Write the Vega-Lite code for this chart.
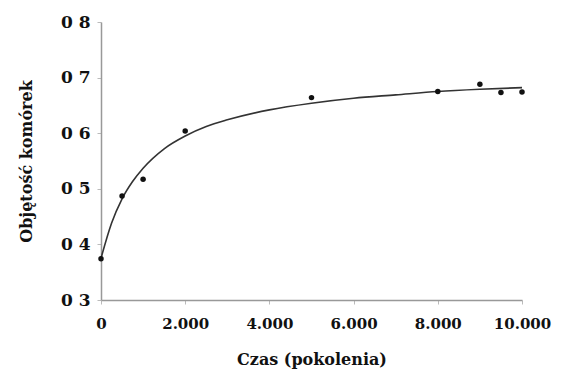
{
  "$schema": "https://vega.github.io/schema/vega-lite/v6.json",
  "width": 421,
  "height": 278,
  "autosize": "none",
  "padding": {"left": 101, "top": 22, "right": 40, "bottom": 74},
  "background": "white",
  "config": {"view": {"stroke": null}},
  "datasets": {
    "points": [
      {"t": 0, "v": 0.374},
      {"t": 500, "v": 0.487},
      {"t": 1000, "v": 0.517},
      {"t": 2000, "v": 0.604},
      {"t": 5000, "v": 0.664},
      {"t": 8000, "v": 0.675},
      {"t": 9000, "v": 0.688},
      {"t": 9500, "v": 0.673},
      {"t": 10000, "v": 0.674}
    ],
    "curve": [
      {"t": 0, "v": 0.375},
      {"t": 250, "v": 0.438},
      {"t": 500, "v": 0.482},
      {"t": 750, "v": 0.513},
      {"t": 1000, "v": 0.537},
      {"t": 1500, "v": 0.572},
      {"t": 2000, "v": 0.595},
      {"t": 2500, "v": 0.612},
      {"t": 3000, "v": 0.624},
      {"t": 4000, "v": 0.642},
      {"t": 5000, "v": 0.654},
      {"t": 6000, "v": 0.663},
      {"t": 7000, "v": 0.669},
      {"t": 8000, "v": 0.675},
      {"t": 9000, "v": 0.679},
      {"t": 10000, "v": 0.682}
    ]
  },
  "layer": [
    {
      "data": {"name": "curve"},
      "mark": {"type": "line", "color": "#333333", "strokeWidth": 1.6, "interpolate": "monotone"},
      "encoding": {
        "x": {
          "field": "t", "type": "quantitative",
          "scale": {"domain": [0, 10000], "nice": false},
          "axis": {
            "values": [0, 2000, 4000, 6000, 8000, 10000],
            "labelExpr": "replace(format(datum.value, ','), ',', '.')",
            "labelOverlap": false,
            "labelFlush": false,
            "labelFont": "DejaVu Serif", "labelFontWeight": "bold", "labelFontSize": 15, "labelColor": "#111111",
            "labelPadding": 12,
            "domainColor": "#999999", "domainWidth": 1.5,
            "tickColor": "#bbbbbb", "tickSize": 4,
            "grid": false,
            "title": "Czas (pokolenia)",
            "titleFont": "DejaVu Serif", "titleFontWeight": "bold", "titleFontSize": 16, "titleColor": "#111111",
            "titlePadding": 20
          }
        },
        "y": {
          "field": "v", "type": "quantitative",
          "scale": {"domain": [0.3, 0.8], "nice": false, "zero": false},
          "axis": {
            "values": [0.3, 0.4, 0.5, 0.6, 0.7, 0.8],
            "format": ".1f",
            "labelExpr": "replace(datum.label, '.', ' ')",
            "labelOverlap": false,
            "labelFlush": false,
            "labelFont": "DejaVu Serif", "labelFontWeight": "bold", "labelFontSize": 17, "labelColor": "#111111",
            "labelPadding": 7,
            "domainColor": "#999999", "domainWidth": 1.5,
            "tickColor": "#bbbbbb", "tickSize": 4,
            "grid": false,
            "title": "Objętość komórek",
            "titleFont": "DejaVu Serif", "titleFontWeight": "bold", "titleFontSize": 16, "titleColor": "#111111",
            "titlePadding": 26
          }
        }
      }
    },
    {
      "data": {"name": "points"},
      "mark": {"type": "circle", "color": "#111111", "opacity": 1, "size": 30},
      "encoding": {
        "x": {"field": "t", "type": "quantitative"},
        "y": {"field": "v", "type": "quantitative"}
      }
    }
  ]
}
